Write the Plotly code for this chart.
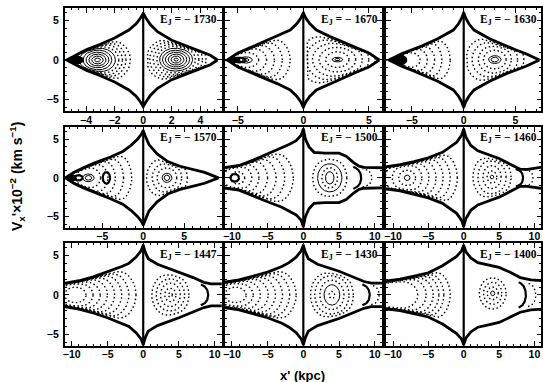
import numpy as np
import plotly.graph_objects as go

# Jacobi energy of each surface of section (row by row)
ENERGY = [-1730, -1670, -1630, -1570, -1500, -1460, -1447, -1430, -1400]

# x' half-range (kpc) and tick labels of each panel
X_HALF = [5.5, 6.0, 7.5, 9.6, 11.0, 11.0, 11.0, 11.0, 11.0]
X_TICKS = [[-4, -2, 0, 2, 4], [-5, 0, 5], [-5, 0, 5], [-5, 0, 5],
           [-10, -5, 0, 5, 10], [-10, -5, 0, 5, 10],
           [-10, -5, 0, 5, 10], [-10, -5, 0, 5, 10], [-10, -5, 0, 5, 10]]
X_MINOR = [0.5, 1, 1, 1, 1, 1, 1, 1, 1]
Y_TICKS = [-5, 0, 5]
Y_RANGE = [-6.5, 6.6]

# zero-velocity curve, upper half: x' (kpc) and V'x (100 km/s)
ZVC_X = [
    [-5.35, -4.8, -4.0, -3.0, -2.0, -1.0, -0.5, -0.2, 0, 0.2, 0.5, 1.0, 2.0, 3.0, 4.0, 4.7, 5.2],
    [-5.8, -5.0, -4.0, -3.0, -2.0, -1.0, -0.5, -0.2, 0, 0.2, 0.5, 1.0, 2.0, 3.0, 4.0, 5.0, 5.8],
    [-7.2, -6.0, -5.0, -4.0, -2.5, -1.0, -0.5, -0.2, 0, 0.2, 0.5, 1.0, 2.5, 4.0, 5.0, 6.0, 7.3],
    [-9.5, -8.5, -7.3, -6.0, -4.0, -2.5, -1.5, -0.7, -0.25, 0, 0.25, 0.7, 1.7, 3.0, 4.5, 6.0, 7.5, 9.2],
    [-11.2, -9.0, -7.0, -5.0, -3.0, -2.0, -1.0, -0.3, 0, 0.3, 0.8, 1.5, 3.0, 5.0, 6.0, 7.0, 7.8, 8.5, 11.2],
    [-11.2, -9.0, -7.0, -5.0, -3.0, -2.0, -1.0, -0.3, 0, 0.3, 1.0, 2.0, 3.5, 5.0, 6.5, 8.0, 9.0, 11.2],
    [-11.2, -9.0, -7.0, -5.0, -3.0, -2.0, -1.0, -0.3, 0, 0.3, 0.7, 2.0, 5.0, 7.0, 8.5, 9.5, 11.2],
    [-11.2, -9.0, -7.0, -5.0, -3.0, -2.0, -1.0, -0.3, 0, 0.3, 0.7, 2.0, 5.0, 7.0, 8.5, 9.5, 11.2],
    [-11.2, -9.0, -7.0, -5.0, -3.0, -2.0, -1.0, -0.3, 0, 0.3, 1.0, 2.0, 3.5, 5.0, 6.5, 8.0, 9.5, 11.2],
]
ZVC_V = [
    [0, 0.55, 1.3, 2.0, 2.8, 3.8, 4.6, 5.3, 5.9, 5.3, 4.5, 3.6, 2.5, 1.8, 1.1, 0.6, 0],
    [0, 0.9, 1.6, 2.3, 3.0, 3.8, 4.6, 5.3, 6.0, 5.3, 4.6, 3.8, 3.0, 2.3, 1.6, 0.9, 0],
    [0, 0.8, 1.3, 1.8, 2.7, 3.8, 4.6, 5.3, 6.0, 5.3, 4.6, 3.8, 2.7, 1.8, 1.3, 0.8, 0],
    [0, 0.7, 1.3, 1.9, 2.7, 3.4, 4.2, 5.0, 5.6, 6.1, 5.4, 4.3, 3.1, 2.1, 1.5, 1.1, 0.7, 0],
    [1.3, 1.6, 2.3, 3.1, 3.8, 4.3, 4.8, 5.5, 6.3, 5.0, 4.0, 3.3, 3.2, 3.2, 2.8, 2.0, 1.5, 1.35, 1.3],
    [1.4, 1.7, 2.1, 2.6, 3.3, 3.9, 4.6, 5.5, 6.3, 5.3, 4.2, 3.5, 3.0, 2.5, 1.8, 1.1, 1.1, 1.4],
    [1.45, 1.8, 2.3, 2.9, 3.6, 4.0, 4.8, 5.6, 6.3, 5.4, 4.6, 3.9, 2.9, 2.2, 1.6, 1.4, 1.4],
    [1.6, 1.9, 2.4, 2.9, 3.6, 4.1, 4.8, 5.6, 6.3, 5.4, 4.6, 3.9, 3.0, 2.3, 1.7, 1.5, 1.5],
    [1.75, 2.0, 2.4, 2.8, 3.7, 4.3, 4.9, 5.6, 6.3, 5.5, 4.7, 4.1, 3.8, 3.5, 2.9, 2.2, 1.9, 1.8],
]

# invariant curves round the island on the x' > 0 side
RIGHT_XC = [2.3, 2.6, 3.0, 2.9, 3.7, 4.0, 3.8, 4.0, 4.1]
RIGHT_VC = [0.05, 0.05, 0.05, 0.0, 0.0, 0.1, 0.0, 0.0, 0.2]
RIGHT_A = [
    [0.15, 0.35, 0.55, 0.75, 0.95, 1.15, 1.35, 1.6, 1.85, 2.1],
    [0.2, 0.4, 0.9, 1.4, 1.9, 2.4, 2.9],
    [0.35, 0.6, 1.1, 1.6, 2.2, 2.8],
    [0.35, 0.6, 1.2, 1.8, 2.5],
    [0.6, 1.7, 1.1, 2.4],
    [0.25, 0.7, 1.3, 2.0, 2.7],
    [0.3, 0.8, 1.4, 2.0, 2.6],
    [1.1, 0.4, 1.7, 2.4, 3.0],
    [0.3, 0.8, 1.3, 1.9],
]
RIGHT_B = [
    [0.2, 0.45, 0.7, 0.95, 1.2, 1.5, 1.8, 2.15, 2.55, 3.0],
    [0.15, 0.3, 1.0, 1.6, 2.3, 3.0, 3.8],
    [0.3, 0.5, 1.2, 1.8, 2.5, 3.3],
    [0.35, 0.6, 1.3, 2.0, 2.8],
    [0.8, 1.85, 1.3, 2.6],
    [0.25, 0.8, 1.5, 2.3, 3.0],
    [0.3, 0.85, 1.5, 2.1, 2.8],
    [1.3, 0.45, 1.9, 2.6, 3.2],
    [0.3, 0.8, 1.4, 2.0],
]
RIGHT_SOLID = [6, 2, 2, 2, 2, 1, 0, 1, 1]

# invariant curves round the island on the x' < 0 side
LEFT_XC = [-3.2, -4.4, -5.2, -6.7, -9.2, -8.0, -9.5, -9.5, -9.5]
LEFT_A = [
    [0.2, 0.4, 0.6, 0.8, 1.0, 1.25, 1.5, 1.75, 2.0, 2.3],
    [0.25, 0.5, 1.0, 1.6, 2.2, 2.8, 3.4],
    [1.0, 1.7, 2.4, 3.1, 3.9],
    [0.4, 0.7, 1.5, 2.4, 3.3, 4.3, 5.3],
    [1.0, 2.0, 3.0, 4.2, 5.4, 6.6, 7.8],
    [0.4, 1.2, 2.1, 3.1, 4.1, 5.1, 6.1, 7.1],
    [1.5, 2.5, 3.5, 4.5, 5.5, 6.5, 7.5, 8.5],
    [1.5, 2.5, 3.5, 4.6, 5.6, 6.6, 7.6, 8.5],
    [3.0, 4.2, 5.2, 6.0, 6.7, 7.6],
]
LEFT_B = [
    [0.25, 0.5, 0.75, 1.0, 1.3, 1.6, 1.9, 2.3, 2.7, 3.2],
    [0.2, 0.4, 1.0, 1.8, 2.6, 3.4, 4.2],
    [1.0, 1.8, 2.6, 3.5, 4.3],
    [0.3, 0.5, 1.4, 2.3, 3.2, 4.1, 5.0],
    [0.8, 1.6, 2.3, 3.1, 3.8, 4.6, 5.4],
    [0.35, 1.0, 1.8, 2.5, 3.2, 3.9, 4.6, 5.3],
    [1.0, 1.6, 2.1, 2.7, 3.3, 3.9, 4.5, 5.2],
    [1.0, 1.6, 2.2, 2.8, 3.4, 4.0, 4.6, 5.2],
    [2.0, 2.7, 3.3, 3.9, 4.5, 5.2],
]
LEFT_SOLID = [6, 2, 0, 2, 0, 1, 0, 0, 0]

# small islands drawn with a heavy outline
BLOB_XC = [[], [-4.9], [], [-4.5, -7.9], [-9.6], [], [], [], []]
BLOB_A = [[], [0.5], [], [0.45, 0.5], [0.6], [], [], [], []]
BLOB_B = [[], [0.3], [], [0.75, 0.35], [0.5], [], [], [], []]

# dense chaotic patches near the x' < 0 tip, drawn filled
PATCH_XC = [[-4.8], [-5.3], [-6.4], [-8.8], [], [], [], [], []]
PATCH_A = [[0.6], [0.45], [0.9], [0.6], [], [], [], [], []]
PATCH_B = [[0.5], [0.3], [0.7], [0.4], [], [], [], [], []]

# arcs bounding the x' > 0 lobe near the Lagrangian region
CAP_XC = [[], [], [], [], [6.5, 7.7], [6.9, 8.1], [7.6], [7.8, 9.0], [7.3, 8.6]]
CAP_A = [[], [], [], [], [1.6, 1.9], [1.5, 1.7], [1.5], [1.5, 1.6], [1.5, 1.6]]
CAP_B = [[], [], [], [], [1.6, 1.5], [1.4, 1.4], [1.5], [1.5, 1.5], [1.8, 1.7]]

# panel frames in paper coordinates
COL_DOMAIN = [(0.116, 0.407), (0.4125, 0.7035), (0.711, 0.999)]
ROW_DOMAIN = [(0.709, 0.979), (0.403, 0.668), (0.094, 0.364)]

INK = "black"
TICK_FONT = dict(family="Liberation Sans, Arial, sans-serif", size=10.5, color=INK, weight="bold")


def ring(xc, vc, a, b, side, bx, bv, t0=0.0, t1=2 * np.pi, npts=241):
    """Ellipse kept inside the zero-velocity curve and on one side of x'=0."""
    t = np.linspace(t0, t1, npts)
    x = xc + a * np.cos(t)
    v = vc + b * np.sin(t)
    if side > 0:
        x = np.maximum(x, 0.3)
    else:
        x = np.minimum(x, -0.3)
    lim = np.maximum(0.93 * np.interp(x, bx, bv), 1e-3)
    p = 5.0
    v = v / (1.0 + np.abs(v / lim) ** p) ** (1.0 / p)
    return list(x) + [None], list(v) + [None]


def line_trace(x, v, xa, ya, **line):
    return go.Scatter(x=x, y=v, mode="lines", xaxis=xa, yaxis=ya, line=line,
                      hoverinfo="skip", showlegend=False)


fig = go.Figure()
for k in range(9):
    r, c = divmod(k, 3)
    n = k + 1
    xa = "x" if n == 1 else f"x{n}"
    ya = "y" if n == 1 else f"y{n}"
    bx = np.array(ZVC_X[k], float)
    bv = np.array(ZVC_V[k], float)

    solid_x, solid_v, dot_x, dot_v, heavy_x, heavy_v = [], [], [], [], [], []

    for j, (a, b) in enumerate(zip(RIGHT_A[k], RIGHT_B[k])):
        px, pv = ring(RIGHT_XC[k], RIGHT_VC[k], a, b, 1, bx, bv)
        if j < RIGHT_SOLID[k]:
            solid_x += px; solid_v += pv
        else:
            dot_x += px; dot_v += pv
    for j, (a, b) in enumerate(zip(LEFT_A[k], LEFT_B[k])):
        px, pv = ring(LEFT_XC[k], 0.0, a, b, -1, bx, bv)
        if j < LEFT_SOLID[k]:
            solid_x += px; solid_v += pv
        else:
            dot_x += px; dot_v += pv
    for xc, a, b in zip(BLOB_XC[k], BLOB_A[k], BLOB_B[k]):
        px, pv = ring(xc, 0.0, a, b, -1, bx, bv)
        heavy_x += px; heavy_v += pv
    for j, (xc, a, b) in enumerate(zip(CAP_XC[k], CAP_A[k], CAP_B[k])):
        px, pv = ring(xc, 0.0, a, b, 1, bx, bv, -1.25, 1.25, 81)
        if j == 0:
            heavy_x += px; heavy_v += pv
        else:
            dot_x += px; dot_v += pv

    for xc, a, b in zip(PATCH_XC[k], PATCH_A[k], PATCH_B[k]):
        px, pv = ring(xc, 0.0, a, b, -1, bx, bv)
        fig.add_trace(go.Scatter(x=px[:-1], y=pv[:-1], mode="lines", fill="toself",
                                 fillcolor=INK, xaxis=xa, yaxis=ya,
                                 line=dict(color=INK, width=1.5),
                                 hoverinfo="skip", showlegend=False))

    fig.add_trace(line_trace(dot_x, dot_v, xa, ya, color=INK, width=1.4, dash="1.5px,2.5px"))
    fig.add_trace(line_trace(solid_x, solid_v, xa, ya, color=INK, width=1.0))
    fig.add_trace(line_trace(heavy_x, heavy_v, xa, ya, color=INK, width=2.2))

    # zero-velocity curve (upper and lower branches)
    zx = list(bx) + [None] + list(bx[::-1])
    zv = list(bv) + [None] + list(-bv[::-1])
    fig.add_trace(line_trace(zx, zv, xa, ya, color=INK, width=2.8))
    # x' = 0 line between the cusps
    vcusp = float(np.interp(0.0, bx, bv)) + 0.15
    fig.add_trace(line_trace([0, 0], [-vcusp, vcusp], xa, ya, color=INK, width=2.2))

    h = X_HALF[k]
    axis_common = dict(showline=True, linecolor=INK, linewidth=1.5, mirror="allticks",
                       ticks="inside", ticklen=5, tickwidth=1, tickcolor=INK,
                       showgrid=False, zeroline=False, tickfont=TICK_FONT)
    fig.layout[f"xaxis{'' if n == 1 else n}"] = dict(
        domain=COL_DOMAIN[c], anchor=ya, range=[-h, h],
        tickmode="array", tickvals=X_TICKS[k],
        minor=dict(ticks="inside", ticklen=2.5, tickwidth=1, tickcolor=INK,
                   dtick=X_MINOR[k], tick0=0, showgrid=False),
        ticklabelstandoff=-2, **axis_common)
    fig.layout[f"yaxis{'' if n == 1 else n}"] = dict(
        domain=ROW_DOMAIN[r], anchor=xa, range=Y_RANGE,
        tickmode="array", tickvals=Y_TICKS, showticklabels=(c == 0),
        minor=dict(ticks="inside", ticklen=2.5, tickwidth=1, tickcolor=INK,
                   dtick=1, tick0=0, showgrid=False),
        ticklabelstandoff=2, **axis_common)

    fig.add_annotation(xref=f"{xa} domain", yref=f"{ya} domain", x=0.985, y=0.975,
                       xanchor="right", yanchor="top", showarrow=False,
                       text=f"E<sub>J</sub> = \u2212 {abs(ENERGY[k])}",
                       font=dict(family="Liberation Serif, serif", size=11.5, color=INK,
                                 weight="bold"))

fig.add_annotation(xref="paper", yref="paper", x=0.028, y=0.537, showarrow=False,
                   textangle=-90, xanchor="center", yanchor="middle",
                   text="V<sub>x</sub>'\u00d710<sup>\u22122</sup> (km s<sup>\u22121</sup>)",
                   font=dict(family="Liberation Sans, Arial, sans-serif", size=14,
                             color=INK, weight="bold"))
fig.add_annotation(xref="paper", yref="paper", x=0.556, y=0.016, showarrow=False,
                   xanchor="center", yanchor="middle", text="x' (kpc)",
                   font=dict(family="Liberation Sans, Arial, sans-serif", size=13,
                             color=INK, weight="bold"))

fig.update_layout(width=543, height=382, margin=dict(l=0, r=0, t=0, b=0),
                  paper_bgcolor="white", plot_bgcolor="white", showlegend=False)

fig.write_html("out.html")
